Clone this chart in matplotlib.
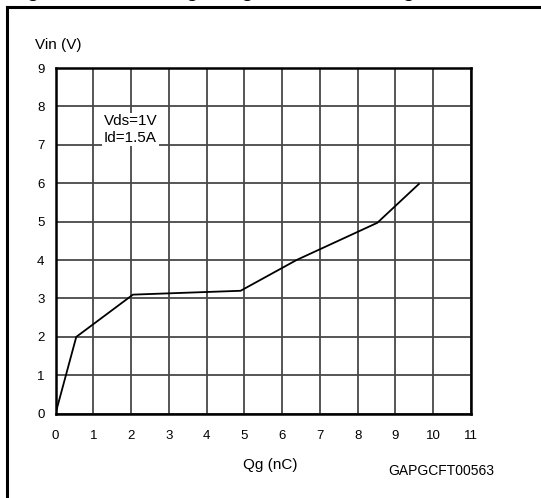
import matplotlib
matplotlib.use("Agg")
import matplotlib.pyplot as plt
from matplotlib.lines import Line2D

plt.rcParams['font.family'] = ['Liberation Sans', 'DejaVu Sans']

qg = [0, 0.55, 2.05, 4.9, 6.38, 8.52, 9.62]
vin = [0, 2.0, 3.1, 3.2, 4.0, 4.97, 5.98]
xticks = list(range(0, 12))
yticks = list(range(0, 10))

fig = plt.figure(figsize=(5.41, 4.98), dpi=100)
ax = fig.add_axes([55.5/541, 1-413.7/498, (471-55.5)/541, (413.7-68)/498])

ax.plot(qg, vin, color='black', lw=1.3, zorder=4)
ax.set_xlim(0, 11)
ax.set_ylim(0, 9)
ax.set_xticks(xticks)
ax.set_yticks(yticks)
ax.grid(True, color='#484848', lw=1.3, zorder=1)
ax.set_axisbelow(True)
for s in ax.spines.values():
    s.set_linewidth(1.8)
    s.set_color('black')
    s.set_zorder(5)
ax.tick_params(length=0, labelsize=9.5, pad=8)
ax.tick_params(axis='x', pad=12)

ax.text(1.28, 7.4, "Vds=1V\nId=1.5A", ha='left', va='center', fontsize=11,
        linespacing=1.2, zorder=3,
        bbox=dict(facecolor='white', edgecolor='none', boxstyle='square,pad=0.1'))

fig.text(35/541, 1-45/498, "Vin (V)", ha='left', va='center', fontsize=11)
fig.text(270/541, 1-465/498, "Qg (nC)", ha='center', va='center', fontsize=11)
fig.text(441/541, 1-471/498, "GAPGCFT00563", ha='center', va='center', fontsize=10)

# outer frame (clipped on right and bottom)
fig.add_artist(Line2D([7/541, 7/541], [1-7/498, -0.1], transform=fig.transFigure,
                      color='black', lw=2.2))
fig.add_artist(Line2D([7/541, 1.1], [1-7/498, 1-7/498], transform=fig.transFigure,
                      color='black', lw=2.2))
# clipped figure title
fig.text(10/541, 1-1/498, "Figure 9. Gate charge vs gate-source voltage", ha='left', va='bottom',
         fontsize=14, fontweight='bold')

fig.savefig("out.png", dpi=100)
